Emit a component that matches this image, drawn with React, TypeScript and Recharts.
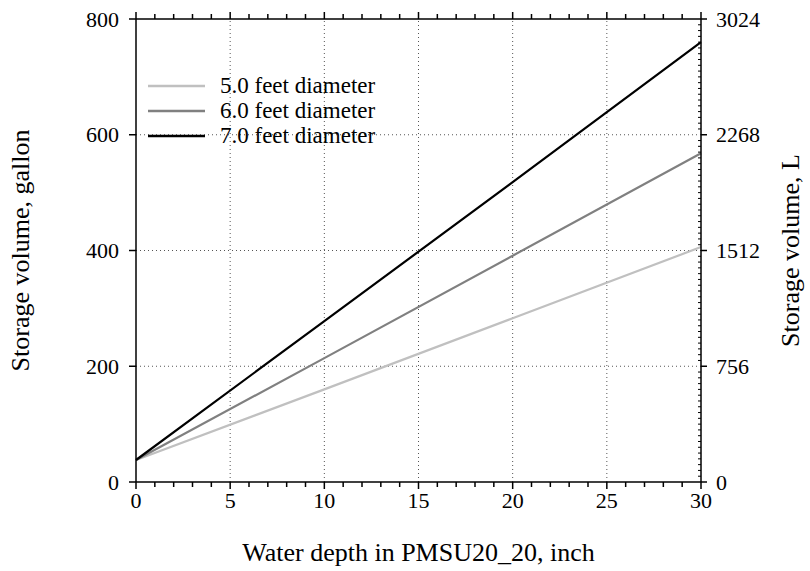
import React from 'react';
import { LineChart, Line, XAxis, YAxis, ReferenceLine, Legend } from 'recharts';

// water depth (inch) and storage volume (gallon)
const depth = [0, 10, 20, 30];
const dia5 = [38, 160, 283, 406];
const dia6 = [38, 214, 391, 568];
const dia7 = [38, 278, 518, 760];

const xMajor = [0, 5, 10, 15, 20, 25, 30];
const xTicks = Array.from({ length: 31 }, (_, i) => i);
const yGallon = [0, 200, 400, 600, 800];
const yLiter = [0, 756, 1512, 2268, 3024];
const yLiterMinor = Array.from({ length: 81 }, (_, i) => (i * 3024) / 80);

const series = [
  { key: 'd5', name: '5.0 feet diameter', color: '#c0c0c0' },
  { key: 'd6', name: '6.0 feet diameter', color: '#808080' },
  { key: 'd7', name: '7.0 feet diameter', color: '#000000' },
];

const data = depth.map((d, i) => ({ depth: d, d5: dia5[i], d6: dia6[i], d7: dia7[i] }));

const FONT = 'Liberation Serif';
const TICK_FS = 22;
const LABEL_FS = 26;

const BottomTick = (props: any) => {
  const { x, y, payload } = props;
  const major = xMajor.includes(payload.value);
  return (
    <g>
      <line x1={x} x2={x} y1={y} y2={y + (major ? 7 : 5)} stroke="#000" strokeWidth={1.5} />
      {major && (
        <text x={x} y={y + 26} textAnchor="middle" fontSize={TICK_FS} fontFamily={FONT} fill="#000">
          {payload.value}
        </text>
      )}
    </g>
  );
};

const TopTick = (props: any) => {
  const { x, y, payload } = props;
  const major = xMajor.includes(payload.value);
  return <line x1={x} x2={x} y1={y} y2={y - (major ? 7 : 5)} stroke="#000" strokeWidth={1.5} />;
};

const LeftTick = (props: any) => {
  const { x, y, payload } = props;
  return (
    <g>
      <line x1={x} x2={x - 7} y1={y} y2={y} stroke="#000" strokeWidth={1.5} />
      <text x={x - 17} y={y} dy="0.35em" textAnchor="end" fontSize={TICK_FS} fontFamily={FONT} fill="#000">
        {payload.value}
      </text>
    </g>
  );
};

const RightTick = (props: any) => {
  const { x, y, payload } = props;
  const major = yLiter.some((v) => Math.abs(v - payload.value) < 0.01);
  if (!major) {
    return <line x1={x} x2={x - 3} y1={y} y2={y} stroke="#000" strokeWidth={1} />;
  }
  return (
    <g>
      <line x1={x} x2={x + 6} y1={y} y2={y} stroke="#000" strokeWidth={1.5} />
      <text x={x + 15} y={y} dy="0.35em" textAnchor="start" fontSize={TICK_FS} fontFamily={FONT} fill="#000">
        {Math.round(payload.value)}
      </text>
    </g>
  );
};

const LegendBox = () => (
  <div style={{ fontFamily: FONT, fontSize: 23, color: '#000', lineHeight: '25px' }}>
    {series.map((s) => (
      <div key={s.key} style={{ display: 'flex', alignItems: 'center', height: 25 }}>
        <svg width={58} height={10} style={{ marginRight: 14 }}>
          <line x1={0} x2={57} y1={5} y2={5} stroke={s.color} strokeWidth={2.5} />
        </svg>
        <span>{s.name}</span>
      </div>
    ))}
  </div>
);

export default function App() {
  return (
    <div style={{ position: 'absolute', left: 0, top: 0, width: 810, height: 571, background: '#fff', fontFamily: FONT }}>
      <LineChart width={810} height={571} data={data} margin={{ top: 0, right: 0, bottom: 0, left: 0 }}>
        <XAxis
          dataKey="depth"
          type="number"
          domain={[0, 30]}
          ticks={xTicks}
          interval={0}
          tickSize={0}
          tickMargin={0}
          tickLine={false}
          tick={<BottomTick />}
          height={89}
          stroke="#000"
          strokeWidth={1.5}
          label={{
            content: (p: any) => (
              <text
                x={p.viewBox.x + p.viewBox.width / 2}
                y={p.viewBox.y + 79}
                textAnchor="middle"
                fontSize={LABEL_FS}
                fontFamily={FONT}
                fill="#000"
              >
                Water depth in PMSU20_20, inch
              </text>
            ),
          }}
        />
        <XAxis
          xAxisId="top"
          orientation="top"
          dataKey="depth"
          type="number"
          domain={[0, 30]}
          ticks={xTicks}
          interval={0}
          tickSize={0}
          tickMargin={0}
          tickLine={false}
          tick={<TopTick />}
          height={19}
          stroke="#000"
          strokeWidth={1.5}
        />
        <YAxis
          type="number"
          domain={[0, 800]}
          ticks={yGallon}
          interval={0}
          tickSize={0}
          tickMargin={0}
          tickLine={false}
          tick={<LeftTick />}
          width={136}
          stroke="#000"
          strokeWidth={1.5}
          label={{
            content: (p: any) => {
              const cx = 20;
              const cy = p.viewBox.y + p.viewBox.height / 2;
              return (
                <text
                  x={cx}
                  y={cy}
                  transform={`rotate(-90 ${cx} ${cy})`}
                  textAnchor="middle"
                  dy="0.35em"
                  fontSize={LABEL_FS}
                  fontFamily={FONT}
                  fill="#000"
                >
                  Storage volume, gallon
                </text>
              );
            },
          }}
        />
        <YAxis
          yAxisId="liter"
          orientation="right"
          type="number"
          domain={[0, 3024]}
          ticks={yLiterMinor}
          interval={0}
          tickSize={0}
          tickMargin={0}
          tickLine={false}
          tick={<RightTick />}
          width={109}
          stroke="#000"
          strokeWidth={1.5}
          allowDataOverflow
          label={{
            content: (p: any) => {
              const cx = 790;
              const cy = p.viewBox.y + p.viewBox.height / 2;
              return (
                <text
                  x={cx}
                  y={cy}
                  transform={`rotate(-90 ${cx} ${cy})`}
                  textAnchor="middle"
                  dy="0.35em"
                  fontSize={LABEL_FS}
                  fontFamily={FONT}
                  fill="#000"
                >
                  Storage volume, L
                </text>
              );
            },
          }}
        />
        {xMajor.slice(1, -1).map((v) => (
          <ReferenceLine key={`gx${v}`} x={v} stroke="#555" strokeWidth={1} strokeDasharray="1 3" />
        ))}
        {yGallon.slice(1, -1).map((v) => (
          <ReferenceLine key={`gy${v}`} y={v} stroke="#555" strokeWidth={1} strokeDasharray="1 3" />
        ))}
        <Legend
          layout="vertical"
          align="center"
          verticalAlign="middle"
          content={<LegendBox />}
          wrapperStyle={{ position: 'absolute', left: 148, top: 73, width: 'auto' }}
        />
        {series.map((s) => (
          <Line
            key={s.key}
            dataKey={s.key}
            name={s.name}
            stroke={s.color}
            strokeWidth={2.2}
            dot={false}
            type="linear"
            isAnimationActive={false}
          />
        ))}
      </LineChart>
    </div>
  );
}
